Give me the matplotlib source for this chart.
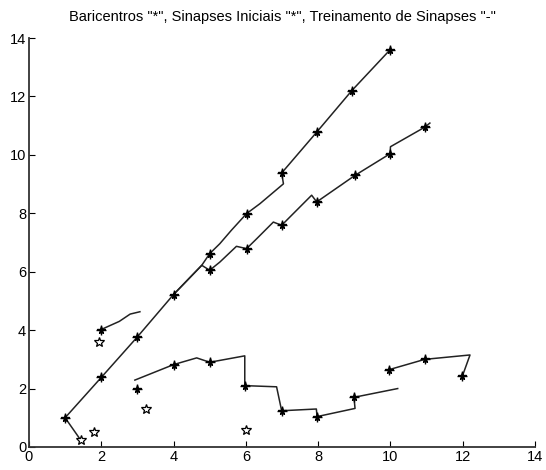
import matplotlib
matplotlib.use("Agg")
import matplotlib.pyplot as plt

# training trajectories
upper_x = [1.43, 1.0, 2.0, 3.0, 4.0, 4.78, 5.0, 5.28, 5.6, 6.02, 6.39, 7.04, 6.99, 7.96, 8.93, 9.99]
upper_y = [0.24, 1.0, 2.38, 3.77, 5.22, 6.22, 6.62, 6.96, 7.42, 7.99, 8.33, 9.01, 9.38, 10.78, 12.2, 13.6]

middle_x = [4.0, 4.78, 5.0, 5.28, 5.74, 6.02, 6.3, 6.76, 6.99, 7.82, 7.96, 9.02, 9.99, 10.0, 10.95, 11.09]
middle_y = [5.22, 6.22, 6.05, 6.33, 6.87, 6.79, 7.13, 7.7, 7.59, 8.62, 8.39, 9.3, 10.04, 10.28, 10.95, 11.09]

short_x = [1.96, 2.5, 2.8, 3.07]
short_y = [4.0, 4.3, 4.55, 4.63]

lower_a_x = [2.93, 4.0, 4.64, 5.0, 5.97, 5.97, 6.85, 6.99, 7.95, 7.97, 9.02, 8.99, 10.2]
lower_a_y = [2.29, 2.82, 3.05, 2.9, 3.12, 2.1, 2.06, 1.24, 1.3, 1.04, 1.32, 1.7, 2.0]

lower_b_x = [9.97, 10.95, 12.2, 11.99]
lower_b_y = [2.65, 3.0, 3.15, 2.43]

# baricentros
bar_x = [1.0, 2.0, 3.0, 4.0, 5.0, 6.02, 6.99, 7.96, 8.93, 9.99,
         5.0, 6.02, 6.99, 7.96, 9.02, 9.99, 10.95, 1.98,
         2.98, 4.0, 5.0, 5.97, 6.99, 7.97, 8.99, 9.97, 10.95, 11.99]
bar_y = [1.0, 2.38, 3.77, 5.22, 6.62, 7.99, 9.38, 10.78, 12.2, 13.6,
         6.05, 6.79, 7.59, 8.39, 9.3, 10.04, 10.95, 4.0,
         2.0, 2.82, 2.9, 2.1, 1.24, 1.04, 1.7, 2.65, 3.0, 2.43]

# sinapses iniciais
ini_x = [1.43, 1.8, 1.95, 3.24, 6.0]
ini_y = [0.24, 0.52, 3.6, 1.3, 0.58]


def main():
    plt.rcParams["font.family"] = ["Liberation Sans", "DejaVu Sans"]
    fig = plt.figure(figsize=(5.46, 4.70), dpi=100)
    ax = fig.add_axes([0.053, 0.049, 0.927, 0.870])

    lines = [(upper_x, upper_y), (middle_x, middle_y), (short_x, short_y),
             (lower_a_x, lower_a_y), (lower_b_x, lower_b_y)]
    for xs, ys in lines:
        ax.plot(xs, ys, "-", color="#222222", linewidth=1.1)

    ax.plot(bar_x, bar_y, "*", color="black", markersize=5.5, linestyle="none")
    ax.plot(bar_x, bar_y, "+", color="black", markersize=7, markeredgewidth=1.0, linestyle="none")
    ax.plot(ini_x, ini_y, "*", markerfacecolor="white", markeredgecolor="black",
            markersize=7, markeredgewidth=0.9, linestyle="none")

    ax.set_xlim(0, 14)
    ax.set_ylim(0, 14)
    ax.set_xticks(range(0, 15, 2))
    ax.set_yticks(range(0, 15, 2))
    for side in ["top", "right"]:
        ax.spines[side].set_visible(False)
    for side in ["left", "bottom"]:
        ax.spines[side].set_linewidth(1.3)
        ax.spines[side].set_color("#333333")
    ax.tick_params(direction="in", length=4, labelsize=10.5, pad=2)

    ax.set_title('Baricentros "*", Sinapses Iniciais "*", Treinamento de Sinapses "-"',
                 fontsize=10.5, pad=12)

    fig.savefig("out.png", dpi=100)
    plt.close(fig)


if __name__ == "__main__":
    main()
